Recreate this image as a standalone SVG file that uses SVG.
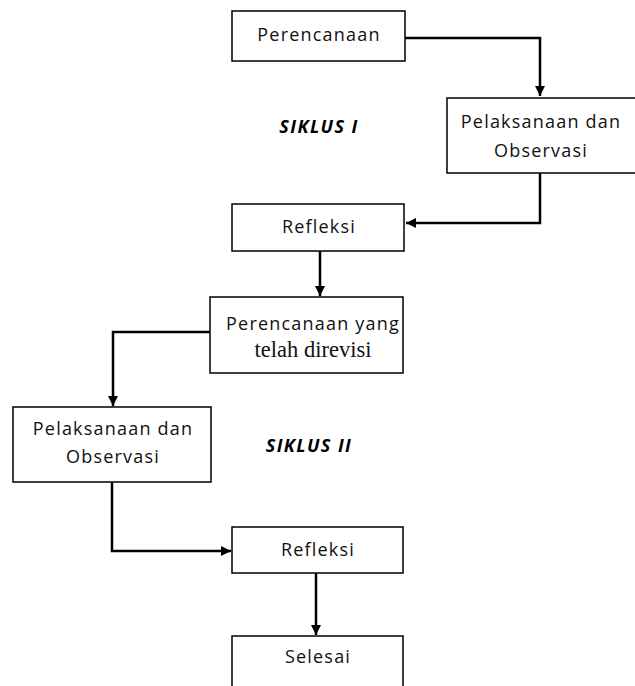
<svg xmlns="http://www.w3.org/2000/svg" width="635" height="686" viewBox="0 0 635 686">
<defs>
<marker id="ah" viewBox="0 0 10 10" refX="10" refY="5" markerWidth="4" markerHeight="4" orient="auto" markerUnits="strokeWidth">
<path d="M0,0 L10,5 L0,10 Z" fill="#000"/>
</marker>
<style>
.box{fill:#fff;stroke:#000;stroke-width:1.5}
.t{font-family:"Open Sans","DejaVu Sans",sans-serif;font-size:18px;letter-spacing:1.2px;fill:#111;text-anchor:middle}
.s{font-family:"Liberation Serif",serif;font-size:22.5px;fill:#111;text-anchor:middle}
.k{font-family:"Open Sans","DejaVu Sans",sans-serif;font-size:18px;letter-spacing:1.4px;font-weight:bold;font-style:italic;fill:#000;text-anchor:middle}
.c{fill:none;stroke:#000;stroke-width:2.5;marker-end:url(#ah)}
</style>
</defs>
<rect width="635" height="686" fill="#fff"/>
<g id="connectors">
<path class="c" d="M405,38 H540 V96"/>
<path class="c" d="M540,173 V223 H406"/>
<path class="c" d="M320,251 V296"/>
<path class="c" d="M210,332 H113 V406"/>
<path class="c" d="M112,482 V551 H231"/>
<path class="c" d="M316,573 V635"/>
</g>
<g id="n1"><rect class="box" x="232" y="11" width="173" height="50"/><text class="t" x="319" y="41">Perencanaan</text></g>
<g id="n2"><rect class="box" x="447" y="98" width="193" height="75"/><text class="t" x="541" y="128">Pelaksanaan dan</text><text class="t" x="541" y="157">Observasi</text></g>
<g id="siklus1"><text class="k" x="319" y="133">SIKLUS I</text></g>
<g id="n3"><rect class="box" x="232" y="204" width="172" height="47"/><text class="t" x="319" y="233">Refleksi</text></g>
<g id="n4"><rect class="box" x="210" y="297" width="193" height="76"/><text class="t" x="313" y="330">Perencanaan yang</text><text class="s" x="313" y="357">telah direvisi</text></g>
<g id="n5"><rect class="box" x="13" y="407" width="198" height="75"/><text class="t" x="113" y="435">Pelaksanaan dan</text><text class="t" x="113" y="463">Observasi</text></g>
<g id="siklus2"><text class="k" x="309" y="452">SIKLUS II</text></g>
<g id="n6"><rect class="box" x="232" y="527" width="171" height="46"/><text class="t" x="318" y="556">Refleksi</text></g>
<g id="n7"><rect class="box" x="232" y="636" width="171" height="60"/><text class="t" x="318" y="663">Selesai</text></g>
</svg>
